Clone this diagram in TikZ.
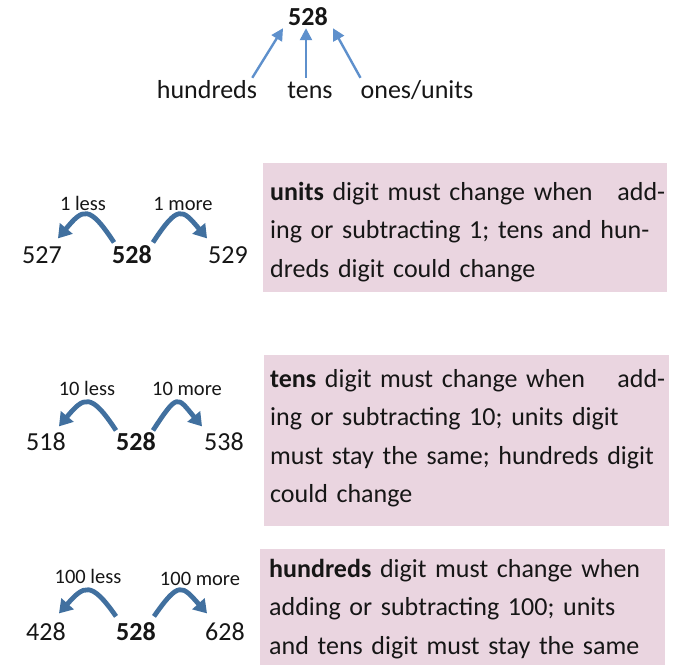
\documentclass[tikz,border=0pt]{standalone}
\usepackage{fontspec}
\setmainfont{Carlito}
\usetikzlibrary{arrows.meta,calc}
\definecolor{boxpink}{HTML}{EAD5E0}
\definecolor{hopblue}{HTML}{41709F}
\definecolor{placeblue}{HTML}{5E90CC}
\definecolor{ink}{HTML}{161616}
\tikzset{
  num/.style={inner sep=0pt, anchor=base, text height=16.4pt, text depth=0pt,
    font=\fontsize{26}{30}\selectfont, text=ink},
  numb/.style={num, font=\fontsize{26}{30}\selectfont\bfseries},
  placelabel/.style={inner sep=0pt, anchor=base, text height=19pt, text depth=0pt,
    font=\fontsize{26}{30}\selectfont, text=ink},
  jumplabel/.style={inner sep=0pt, anchor=base, font=\fontsize{20.5}{24}\selectfont, text=ink},
  hop/.style={draw=hopblue, line width=4.8pt, -{Triangle[length=13pt,width=16pt]}},
  place/.style={draw=placeblue, line width=2.4pt, -{Triangle[length=12pt,width=12pt]}},
  notebox/.style={fill=boxpink, draw=none},
  note/.style={inner sep=0pt, anchor=base west, text width=395pt, align=left,
    font=\fontsize{26}{38.5}\selectfont, text=ink},
}
\begin{document}
\begin{tikzpicture}[x=1pt, y=-1pt]
\useasboundingbox (0,0) rectangle (676,665);

% place value of 528
\node[numb] (top) at (308,25) {528};
\node[placelabel] (hund) at (207,98) {hundreds};
\node[placelabel] (tens) at (310,98) {tens};
\node[placelabel] (ones) at (417,98) {ones/units};
\draw[place] ($(hund.north east)+(-5,-1)$) -- ($(top.south west)+(-5,3)$);
\draw[place] ($(tens.north)+(-4,-1)$) -- ($(top.south)+(-2,3)$);
\draw[place] ($(ones.north west)+(0,-1)$) -- ($(top.south east)+(5,3)$);

% one less / one more
\node[num]  (a1) at (42,263)  {527};
\node[numb] (m1) at (132,263) {528};
\node[num]  (b1) at (228,263) {529};
\node[jumplabel] (l1) at (83,210)  {1 less};
\node[jumplabel] (r1) at (183,210) {1 more};
\draw[hop] ($(m1.north west)+(2,-4)$) .. controls +(-25,-38) and +(25,-30) .. ($(a1.north east)+(-4,-8)$);
\draw[hop] ($(m1.north east)+(1,-4)$) .. controls +(25,-38) and +(-25,-30) .. ($(b1.north west)+(-1,-8)$);

% ten less / ten more
\node[num]  (a2) at (46,450)  {518};
\node[numb] (m2) at (136,450) {528};
\node[num]  (b2) at (224,450) {538};
\node[jumplabel] (l2) at (87,395)  {10 less};
\node[jumplabel] (r2) at (187,395) {10 more};
\draw[hop] ($(m2.north west)+(0,-3)$) .. controls +(-25,-38) and +(25,-30) .. ($(a2.north east)+(-7,-7)$);
\draw[hop] ($(m2.north east)+(-3,-3)$) .. controls +(25,-38) and +(-25,-30) .. ($(b2.north west)+(-2,-7)$);

% hundred less / hundred more
\node[num]  (a3) at (46,640)  {428};
\node[numb] (m3) at (136,640) {528};
\node[num]  (b3) at (225,640) {628};
\node[jumplabel] (l3) at (88,583)  {100 less};
\node[jumplabel] (r3) at (200,585) {100 more};
\draw[hop] ($(m3.north west)+(0,-7)$) .. controls +(-25,-36) and +(25,-28) .. ($(a3.north east)+(-7,-10)$);
\draw[hop] ($(m3.north east)+(-2,-7)$) .. controls +(25,-36) and +(-25,-28) .. ($(b3.north west)+(2,-10)$);

% explanations
\fill[notebox] (263,163) rectangle (667,292);
\node[note] (n1) at (270,200) {\textbf{units} digit must change when\hfill add-\\
ing or subtracting 1; tens and hun-\\
dreds digit could change};

\fill[notebox] (264,355) rectangle (669,526);
\node[note] (n2) at (270,387) {\textbf{tens} digit must change when\hfill add-\\
ing or subtracting 10; units digit\\
must stay the same; hundreds digit\\
could change};

\fill[notebox] (260,549) rectangle (665,665);
\node[note] (n3) at (269,577) {\textbf{hundreds} digit must change when\\
adding or subtracting 100; units\\
\makebox[394pt][s]{and tens digit must stay the same}};
\end{tikzpicture}
\end{document}
